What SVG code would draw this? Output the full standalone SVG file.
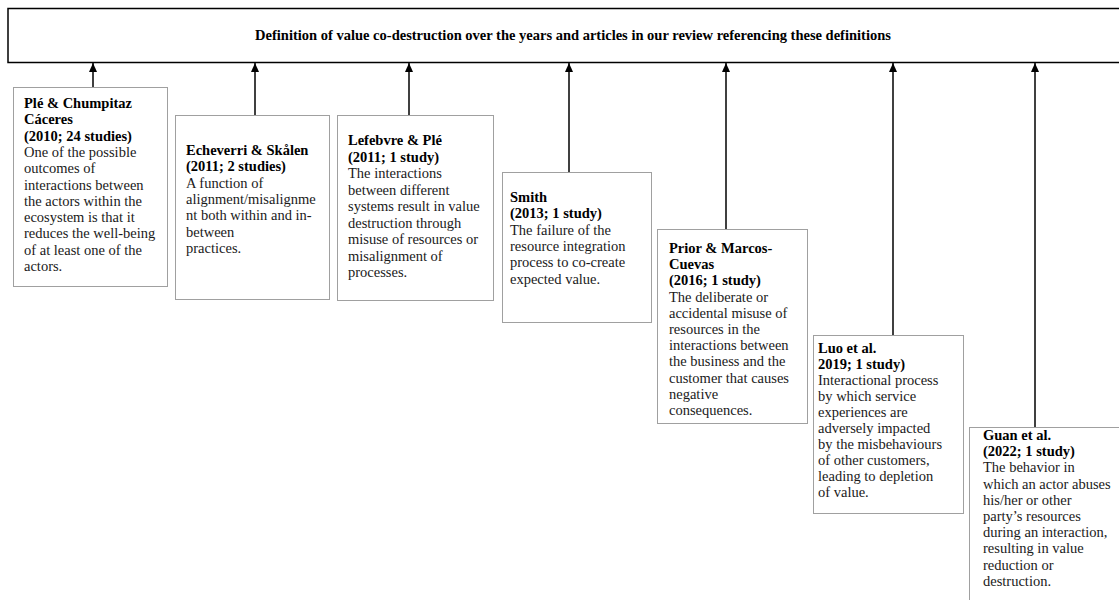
<svg xmlns="http://www.w3.org/2000/svg" width="1119" height="600" viewBox="0 0 1119 600">
<defs>
<marker id="ah" markerWidth="9" markerHeight="8" refX="9" refY="4" orient="auto" markerUnits="userSpaceOnUse" viewBox="0 0 9 8">
<path d="M0,0 L9,4 L0,8 Z" fill="#000"/>
</marker>
</defs>
<style>
.t{font-family:"Liberation Serif","Times New Roman",serif;font-size:14.5px;fill:#1a1a1a}
.b{font-weight:bold;fill:#000}
.box{fill:#fff;stroke:#a0a0a0;stroke-width:1}
.top{fill:#fff;stroke:#000;stroke-width:1.5}
.c{stroke:#000;stroke-width:1.5;fill:none}
</style>
<rect width="1119" height="600" fill="#fff"/>
<g id="header">
<rect class="top" x="8" y="8.5" width="1120" height="54"/>
<text class="t b" x="573" y="40" text-anchor="middle">Definition of value co-destruction over the years and articles in our review referencing these definitions</text>
</g>
<g id="connectors">
<line class="c" x1="93" y1="87" x2="93" y2="63" marker-end="url(#ah)"/>
<line class="c" x1="255" y1="115" x2="255" y2="63" marker-end="url(#ah)"/>
<line class="c" x1="409" y1="115" x2="409" y2="63" marker-end="url(#ah)"/>
<line class="c" x1="569" y1="172" x2="569" y2="63" marker-end="url(#ah)"/>
<line class="c" x1="726" y1="229" x2="726" y2="63" marker-end="url(#ah)"/>
<line class="c" x1="893" y1="335" x2="893" y2="63" marker-end="url(#ah)"/>
<line class="c" x1="1035" y1="427" x2="1035" y2="63" marker-end="url(#ah)"/>
</g>
<g id="ple2010">
<rect class="box" x="13.5" y="87.5" width="154" height="199"/>
<text class="t" x="24" y="108"><tspan class="b" x="24">Plé &amp; Chumpitaz</tspan><tspan class="b" x="24" dy="16.3">Cáceres</tspan><tspan class="b" x="24" dy="16.3">(2010; 24 studies)</tspan><tspan x="24" dy="16.3">One of the possible</tspan><tspan x="24" dy="16.3">outcomes of</tspan><tspan x="24" dy="16.3">interactions between</tspan><tspan x="24" dy="16.3">the actors within the</tspan><tspan x="24" dy="16.3">ecosystem is that it</tspan><tspan x="24" dy="16.3">reduces the well-being</tspan><tspan x="24" dy="16.3">of at least one of the</tspan><tspan x="24" dy="16.3">actors.</tspan></text>
</g>
<g id="echeverri2011">
<rect class="box" x="175.5" y="115.5" width="154" height="184"/>
<text class="t" x="186" y="155"><tspan class="b" x="186">Echeverri &amp; Skålen</tspan><tspan class="b" x="186" dy="16.3">(2011; 2 studies)</tspan><tspan x="186" dy="16.3">A function of</tspan><tspan x="186" dy="16.3">alignment/misalignme</tspan><tspan x="186" dy="16.3">nt both within and in-</tspan><tspan x="186" dy="16.3">between</tspan><tspan x="186" dy="16.3">practices.</tspan></text>
</g>
<g id="lefebvre2011">
<rect class="box" x="337.5" y="115.5" width="156" height="185"/>
<text class="t" x="348" y="145"><tspan class="b" x="348">Lefebvre &amp; Plé</tspan><tspan class="b" x="348" dy="16.5">(2011; 1 study)</tspan><tspan x="348" dy="16.5">The interactions</tspan><tspan x="348" dy="16.5">between different</tspan><tspan x="348" dy="16.5">systems result in value</tspan><tspan x="348" dy="16.5">destruction through</tspan><tspan x="348" dy="16.5">misuse of resources or</tspan><tspan x="348" dy="16.5">misalignment of</tspan><tspan x="348" dy="16.5">processes.</tspan></text>
</g>
<g id="smith2013">
<rect class="box" x="502.5" y="172.5" width="149" height="150"/>
<text class="t" x="510" y="202"><tspan class="b" x="510">Smith</tspan><tspan class="b" x="510" dy="16.3">(2013; 1 study)</tspan><tspan x="510" dy="16.3">The failure of the</tspan><tspan x="510" dy="16.3">resource integration</tspan><tspan x="510" dy="16.3">process to co-create</tspan><tspan x="510" dy="16.3">expected value.</tspan></text>
</g>
<g id="prior2016">
<rect class="box" x="657.5" y="229.5" width="150" height="194"/>
<text class="t" x="669" y="253"><tspan class="b" x="669">Prior &amp; Marcos-</tspan><tspan class="b" x="669" dy="16.2">Cuevas</tspan><tspan class="b" x="669" dy="16.2">(2016; 1 study)</tspan><tspan x="669" dy="16.2">The deliberate or</tspan><tspan x="669" dy="16.2">accidental misuse of</tspan><tspan x="669" dy="16.2">resources in the</tspan><tspan x="669" dy="16.2">interactions between</tspan><tspan x="669" dy="16.2">the business and the</tspan><tspan x="669" dy="16.2">customer that causes</tspan><tspan x="669" dy="16.2">negative</tspan><tspan x="669" dy="16.2">consequences.</tspan></text>
</g>
<g id="luo2019">
<rect class="box" x="813.5" y="335.5" width="150" height="178"/>
<text class="t" x="818" y="353"><tspan class="b" x="818">Luo et al.</tspan><tspan class="b" x="818" dy="16">2019; 1 study)</tspan><tspan x="818" dy="16">Interactional process</tspan><tspan x="818" dy="16">by which service</tspan><tspan x="818" dy="16">experiences are</tspan><tspan x="818" dy="16">adversely impacted</tspan><tspan x="818" dy="16">by the misbehaviours</tspan><tspan x="818" dy="16">of other customers,</tspan><tspan x="818" dy="16">leading to depletion</tspan><tspan x="818" dy="16">of value.</tspan></text>
</g>
<g id="guan2022">
<rect class="box" x="969.5" y="427.5" width="160" height="200"/>
<text class="t" x="983" y="440"><tspan class="b" x="983">Guan et al.</tspan><tspan class="b" x="983" dy="16.2">(2022; 1 study)</tspan><tspan x="983" dy="16.2">The behavior in</tspan><tspan x="983" dy="16.2">which an actor abuses</tspan><tspan x="983" dy="16.2">his/her or other</tspan><tspan x="983" dy="16.2">party’s resources</tspan><tspan x="983" dy="16.2">during an interaction,</tspan><tspan x="983" dy="16.2">resulting in value</tspan><tspan x="983" dy="16.2">reduction or</tspan><tspan x="983" dy="16.2">destruction.</tspan></text>
</g>
</svg>
